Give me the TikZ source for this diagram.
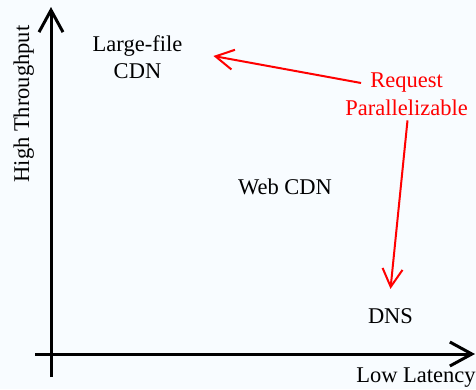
\documentclass[tikz,border=0pt]{standalone}
\usepackage{fontspec}
\setmainfont{Liberation Serif}
\usetikzlibrary{arrows.meta}
\definecolor{bgc}{RGB}{248,252,255}
\definecolor{redc}{RGB}{255,0,0}
\begin{document}
\begin{tikzpicture}[x=1pt,y=-1pt,
  lbl/.style={font=\fontsize{22.5}{27.5}\selectfont, inner sep=0pt, align=center},
  axis/.style={line width=3pt, -{Straight Barb[length=22pt,width=24pt]}},
  redarrow/.style={draw=redc, line width=2pt, -{Straight Barb[length=18pt,width=20pt]}}]
\fill[bgc] (0,0) rectangle (476,389);
\useasboundingbox (0,0) rectangle (476,389);
% axes
\coordinate (o1) at (51,377);
\coordinate (ytip) at (51,7);
\coordinate (o2) at (35,354);
\coordinate (xtip) at (475,354);
\draw[axis] (o1) -- (ytip);
\draw[axis] (o2) -- (xtip);
% labels
\node[lbl, rotate=90, anchor=base] (ylab) at (29,104) {High Throughput};
\node[lbl, anchor=base] (xlab) at (416,382) {Low Latency};
\node[lbl] (large) at (137.5,57) {Large-file\\CDN};
\node[lbl, anchor=base] (web) at (285,194) {Web CDN};
\node[lbl, anchor=base] (dns) at (390.5,323) {DNS};
\node[lbl, text=redc] (req) at (406.5,94) {Request\\Parallelizable};
% red arrows
\draw[redarrow] ([xshift=16pt,yshift=11pt]req.west) -- ([xshift=31pt,yshift=1pt]large.east);
\draw[redarrow] ([xshift=1pt,yshift=-5pt]req.south) -- ([yshift=19pt]dns.north);
\end{tikzpicture}
\end{document}
